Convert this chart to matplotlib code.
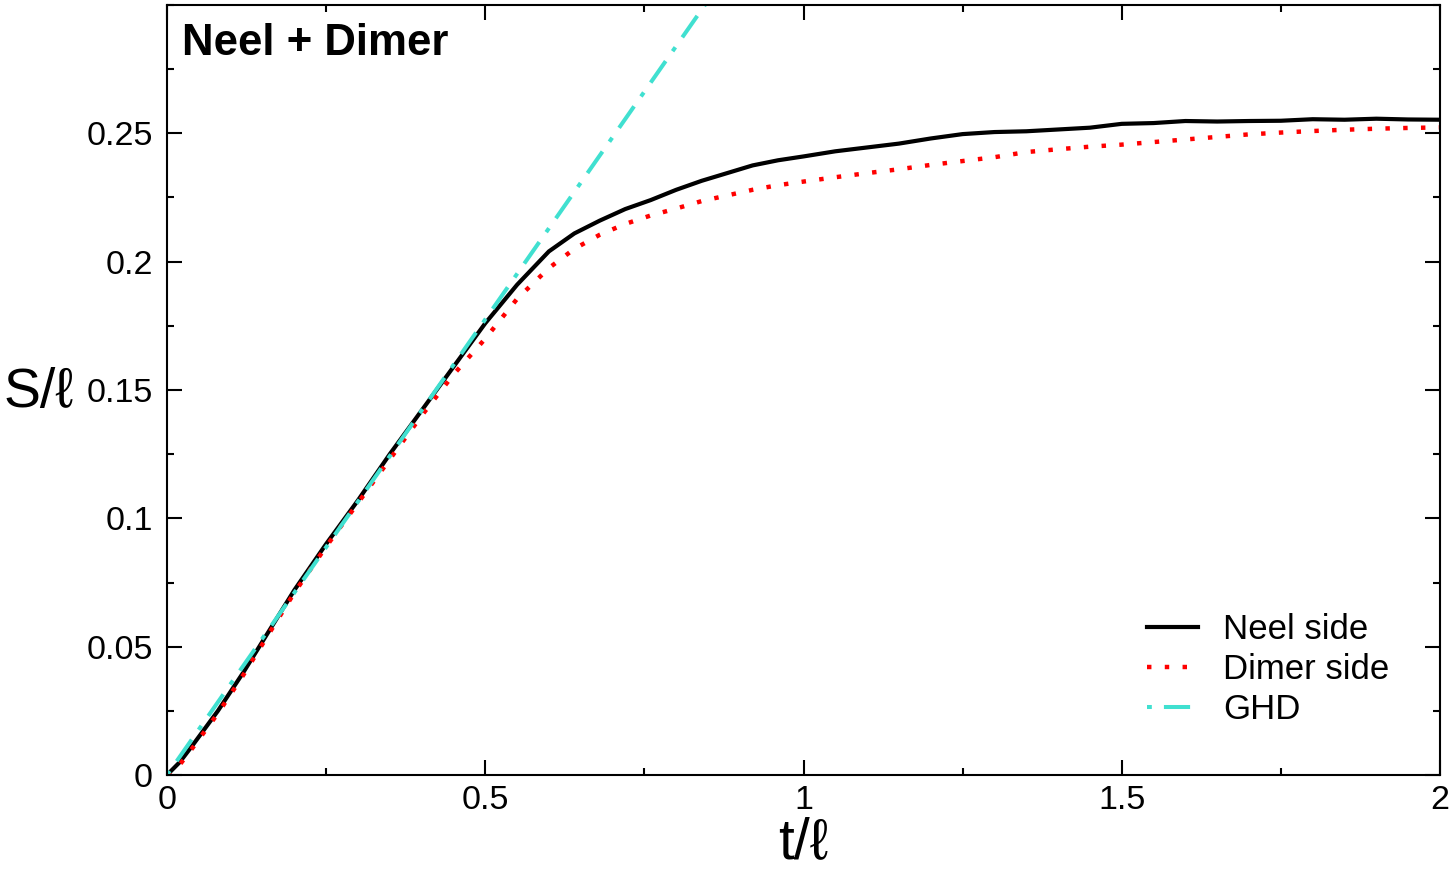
import matplotlib
matplotlib.use("Agg")
import matplotlib.pyplot as plt
from matplotlib.ticker import MultipleLocator

plt.rcParams['font.family'] = ['Liberation Sans', 'DejaVu Sans']

# ---- data ----
t_vals = [0, 0.02, 0.04, 0.08, 0.12, 0.16, 0.2, 0.25, 0.3, 0.35, 0.4, 0.45, 0.5,
          0.55, 0.6, 0.64, 0.68, 0.72, 0.76, 0.8, 0.84, 0.88, 0.92, 0.96, 1.0,
          1.05, 1.1, 1.15, 1.2, 1.25, 1.3, 1.35, 1.4, 1.45, 1.5, 1.55, 1.6,
          1.65, 1.7, 1.75, 1.8, 1.85, 1.9, 1.95, 2.0]
neel_side = [0, 0.005, 0.0115, 0.025, 0.040, 0.056, 0.072, 0.090, 0.107, 0.125,
             0.142, 0.159, 0.176, 0.191, 0.204, 0.211, 0.216, 0.2205, 0.224,
             0.228, 0.2315, 0.2345, 0.2375, 0.2395, 0.241, 0.243, 0.2445, 0.246,
             0.248, 0.2497, 0.2505, 0.2508, 0.2515, 0.2522, 0.2537, 0.254,
             0.2548, 0.2546, 0.2548, 0.2549, 0.2555, 0.2553, 0.2557, 0.2554,
             0.2553]
dimer_side = [0, 0.004, 0.0105, 0.024, 0.039, 0.055, 0.071, 0.089, 0.106, 0.123,
              0.140, 0.156, 0.170, 0.1855, 0.1975, 0.205, 0.2105, 0.2147, 0.218,
              0.2207, 0.2236, 0.2258, 0.2280, 0.2298, 0.2312, 0.2329, 0.2345,
              0.2360, 0.2377, 0.2392, 0.2407, 0.2427, 0.2438, 0.2448, 0.2456,
              0.2466, 0.2476, 0.2486, 0.2496, 0.2503, 0.2509, 0.2514, 0.2518,
              0.2521, 0.2523]
ghd_t = [0, 0.9]
ghd_S = [0, 0.3195]

x_ticks = [0, 0.5, 1, 1.5, 2]
x_ticklabels = ["0", "0.5", "1", "1.5", "2"]
y_ticks = [0, 0.05, 0.1, 0.15, 0.2, 0.25]
y_ticklabels = ["0", "0.05", "0.1", "0.15", "0.2", "0.25"]

fig = plt.figure(figsize=(14.55, 8.71), dpi=100)
ax = fig.add_axes([167/1455, 1 - 775/871, (1440-167)/1455, (775-5)/871])

ax.plot(t_vals, neel_side, color='black', lw=3.0, label='Neel side',
        solid_joinstyle='round')
ax.plot(t_vals, dimer_side, color='red', lw=3.2, linestyle=(0, (1, 3)),
        label='Dimer side')
ax.plot(ghd_t, ghd_S, color='#40E0D0', lw=2.9,
        linestyle=(0, (1.2, 3.0, 6.5, 3.0)), label='GHD')

ax.set_xlim(0, 2)
ax.set_ylim(0, 0.3)
ax.set_xticks(x_ticks)
ax.set_xticklabels(x_ticklabels)
ax.set_yticks(y_ticks)
ax.set_yticklabels(y_ticklabels)
ax.xaxis.set_minor_locator(MultipleLocator(0.25))
ax.yaxis.set_minor_locator(MultipleLocator(0.025))

for s in ax.spines.values():
    s.set_linewidth(1.5)
ax.tick_params(which='both', direction='in', top=True, right=True, width=1.5)
ax.tick_params(which='major', length=11)
ax.tick_params(which='minor', length=5)
ax.tick_params(axis='x', which='major', labelsize=24.5, pad=7.5)
ax.tick_params(axis='y', which='major', labelsize=24.5, pad=10)

ax.set_xlabel('t/ℓ', fontsize=41, labelpad=0)
ax.set_ylabel('S/ℓ', fontsize=40, rotation=0, ha='center', va='center')
ax.yaxis.set_label_coords(-0.101, 0.496)

ax.text(0.0118, 0.976, 'Neel + Dimer', transform=ax.transAxes, fontsize=31.5,
        fontweight='bold', ha='left', va='top')

ax.legend(loc='lower right', bbox_to_anchor=(0.960, 0.0636), frameon=False,
          fontsize=25, handlelength=1.45, handletextpad=0.72, labelspacing=0.2,
          borderpad=0, borderaxespad=0)

fig.savefig('out.png', dpi=100)
